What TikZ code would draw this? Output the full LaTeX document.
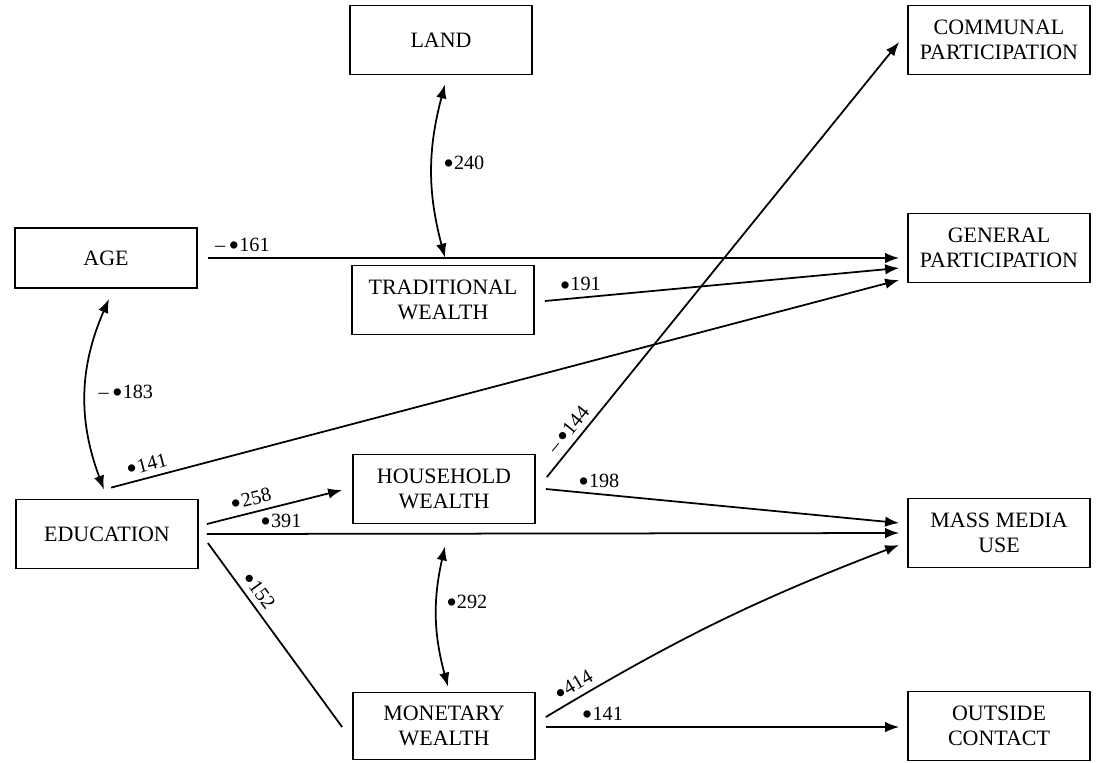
\documentclass[tikz,border=0pt]{standalone}
\usepackage{fontspec}
\setmainfont{Liberation Serif}
\usetikzlibrary{arrows.meta, calc}
\newcommand{\decdot}{\raisebox{-0.45ex}{\scalebox{1.5}{\textbullet}}}

\begin{document}
\begin{tikzpicture}[x=0.02cm, y=-0.02cm]
      \tikzstyle{block} = [draw, rectangle, line width=1pt, minimum width=3.64cm,
                           minimum height=1.38cm, align=center, inner sep=0pt,
                           font=\fontsize{12.5}{14.5}\selectfont]
      \tikzstyle{link} = [line width=1pt]
      \tikzstyle{arr} = [link, -{Latex[length=2.8mm, width=2.1mm]}]
      \tikzstyle{twoway} = [link, {Latex[length=2.8mm, width=2.1mm]}-{Latex[length=2.8mm, width=2.1mm]}]
      \tikzstyle{coef} = [font=\fontsize{11.5}{13}\selectfont, inner sep=1pt]

      \useasboundingbox (0,0) rectangle (1097,762);

      % variables
      \node[block] (land) at (441,40)  {LAND};
      \node[block, minimum height=1.2cm] (age) at (106,258) {AGE};
      \node[block] (trad) at (443,300) {TRADITIONAL\\WEALTH};
      \node[block] (edu)  at (107,534) {EDUCATION};
      \node[block] (hh)   at (444,489) {HOUSEHOLD\\WEALTH};
      \node[block, minimum height=1.34cm] (mon) at (444,726) {MONETARY\\WEALTH};
      \node[block] (comm) at (999,40)  {COMMUNAL\\PARTICIPATION};
      \node[block] (gen)  at (999,248) {GENERAL\\PARTICIPATION};
      \node[block] (mass) at (999,533) {MASS MEDIA\\USE};
      \node[block] (out)  at (999,726) {OUTSIDE\\CONTACT};

      % correlations
      \draw[twoway] ($(land.south)+(4,9)$) to[bend right=15]
            node[coef, right, pos=.46, xshift=5pt] {\decdot240} ($(trad.north)+(2,-7)$);
      \draw[twoway] ($(age.south)+(3,10)$) to[bend right=22]
            node[coef, right, pos=.5, xshift=6pt] {--\,\decdot183} ($(edu.north)+(-3,-9)$);
      \draw[twoway] ($(hh.south)+(1,22)$) to[bend right=14]
            node[coef, right, pos=.4, xshift=4pt] {\decdot292} ($(mon.north)+(4,-5)$);

      % paths
      \draw[arr] ($(age.east)+(10,0)$) -- node[coef, above, pos=.05] {--\,\decdot161} ($(gen.west)+(-8,10)$);
      \draw[arr] ($(trad.east)+(10,1)$) -- node[coef, above, pos=.1] {\decdot191} ($(gen.west)+(-8,20)$);
      \draw[arr] ($(edu.north)+(4,-11)$) -- node[coef, above, sloped, pos=.05] {\decdot141} ($(gen.west)+(-8,32)$);
      \draw[arr] ($(edu.east)+(8,-10)$) -- node[coef, above, sloped, pos=.35] {\decdot258} ($(hh.west)+(-10,1)$);
      \draw[arr] ($(edu.east)+(8,0)$) -- node[coef, above, pos=.107] {\decdot391} ($(mass.west)+(-8,0)$);
      \draw[link] ($(edu.east)+(9,9)$) -- node[coef, above, sloped, pos=.3] {\decdot152} ($(mon.west)+(-10,1)$);
      \draw[arr] ($(hh.east)+(11,-12)$) -- node[coef, above, sloped, pos=.09] {--\,\decdot144} ($(comm.west)+(-8,2)$);
      \draw[arr] ($(hh.east)+(10,0)$) -- node[coef, above, pos=.15] {\decdot198} ($(mass.west)+(-8,-10)$);
      \draw[arr] ($(mon.east)+(10,-9)$) to[bend left=5] node[coef, above, sloped, pos=.09] {\decdot414} ($(mass.west)+(-8,12)$);
      \draw[arr] ($(mon.east)+(10,1)$) -- node[coef, above, pos=.16] {\decdot141} ($(out.west)+(-8,1)$);
\end{tikzpicture}
\end{document}
